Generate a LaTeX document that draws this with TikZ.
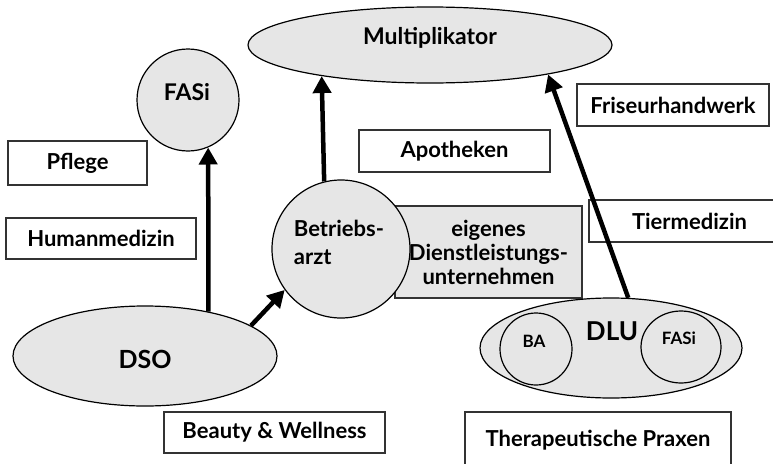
\documentclass[tikz,border=0pt]{standalone}
\usepackage{fontspec}
\setmainfont{Lato}
\usetikzlibrary{shapes.geometric,arrows.meta}
\definecolor{shade}{HTML}{E6E6E6}
\definecolor{frame}{HTML}{333333}
\tikzset{
  blob/.style={ellipse, draw=black, line width=1.2pt, fill=shade, inner sep=0pt},
  roundel/.style={circle, draw=black, line width=1.2pt, fill=shade, inner sep=0pt},
  tag/.style={rectangle, draw=frame, line width=1.5pt, inner sep=0pt,
    font=\fontsize{22}{25}\selectfont\bfseries},
  word/.style={inner sep=0pt, font=\fontsize{22}{25}\selectfont\bfseries},
  link/.style={line width=4.5pt, -{Triangle[length=17pt, width=18pt]}},
}
\begin{document}
\begin{tikzpicture}[x=1pt, y=-1pt]
\useasboundingbox (0,0) rectangle (773,463);

% top level
\node[blob, minimum width=364pt, minimum height=76pt] (mult) at (430,45) {};
\node[word, font=\fontsize{23}{26}\selectfont\bfseries] (multtxt) at (430,38) {Multiplikator};

\node[roundel, minimum size=102pt] (fasi) at (188,100) {};
\node[word, font=\fontsize{23}{26}\selectfont\bfseries] (fasitxt) at (187,92) {FASi};

% sector labels
\node[tag, minimum width=139pt, minimum height=44pt] (pflege) at (77.5,163) {Pflege};
\node[tag, minimum width=190pt, minimum height=41pt] (human) at (101,238.5) {Humanmedizin};
\node[tag, minimum width=191pt, minimum height=42pt] (apo) at (454.5,151) {Apotheken};
\node[tag, minimum width=192pt, minimum height=42pt] (fris) at (673,105) {Friseurhandwerk};
\node[tag, minimum width=201pt, minimum height=42pt] (tier) at (689.5,221) {Tiermedizin};
\node[tag, minimum width=221pt, minimum height=41pt] (beauty) at (274.5,432.5) {Beauty \& Wellness};
\node[tag, minimum width=266pt, minimum height=56pt] (thera) at (598,440) {Therapeutische Praxen};

% company physician and own service provider
\node[rectangle, draw=frame, line width=1.5pt, fill=shade, minimum width=187pt,
  minimum height=92pt, inner sep=0pt, align=center,
  font=\fontsize{22}{24}\selectfont\bfseries] (dl) at (488.5,252)
  {eigenes\\Dienstleistungs-\\unternehmen};
\node[roundel, minimum size=138pt] (ba) at (341,249) {};
\node[word, align=left, font=\fontsize{22}{28}\selectfont\bfseries] (batxt) at (339,242)
  {Betriebs-\\arzt};

% DSO
\node[blob, minimum width=264pt, minimum height=100pt] (dso) at (145,356) {};
\node[word, font=\fontsize{25}{28}\selectfont\bfseries] (dsotxt) at (145,359) {DSO};

% DLU with its two members
\node[blob, minimum width=262pt, minimum height=100pt] (dlu) at (611,348) {};
\node[word, font=\fontsize{26}{29}\selectfont\bfseries] (dlutxt) at (612,331) {DLU};
\node[circle, draw=black, line width=1.2pt, inner sep=0pt, minimum size=72pt] (bain) at (536,349) {};
\node[word, font=\fontsize{17}{20}\selectfont\bfseries] (baintxt) at (534,341) {BA};
\node[ellipse, draw=black, line width=1.2pt, inner sep=0pt, minimum width=80pt,
  minimum height=72pt] (fasiin) at (681,347) {};
\node[word, font=\fontsize{17}{20}\selectfont\bfseries] (fasiintxt) at (679,338) {FASi};

% connectors
\draw[link] (dso.35) -- (fasi.-67);
\draw[link] (ba.104) -- (mult.196);
\draw[link] (dso.16) -- (ba.216);
\draw[link] (dlu.71) -- (mult.-14.4);
\end{tikzpicture}
\end{document}
